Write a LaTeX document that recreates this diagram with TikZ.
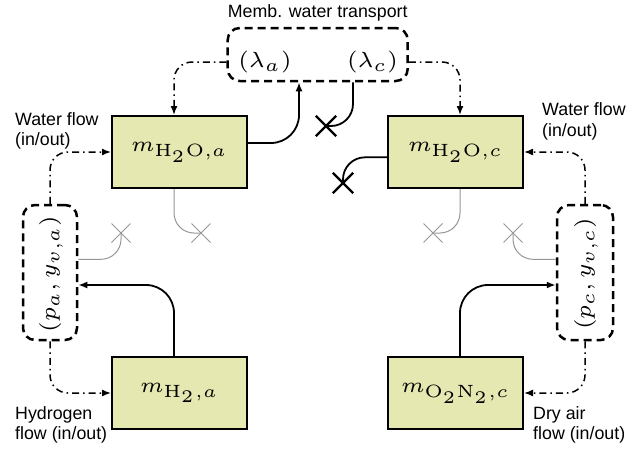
\documentclass[tikz,border=0pt]{standalone}
\usepackage{fontspec}
\setsansfont{Liberation Sans}
\usetikzlibrary{arrows.meta,shapes.misc}

\definecolor{boxfill}{RGB}{230,232,178}
\definecolor{weakgray}{RGB}{150,150,150}

% math labels, set small (large subscripts) and enlarged
\newcommand\masslabel[1]{\scalebox{3.55}{\fontsize{6}{7}\selectfont$#1$}}
\newcommand\statelabel[1]{\scalebox{3.65}{\fontsize{6}{7}\selectfont$#1$}}

\tikzset{
  massbox/.style={draw=black, line width=2pt, fill=boxfill,
    minimum width=135pt, minimum height=72pt, inner sep=0pt},
  statebox/.style={draw=black, line width=2.5pt, dash pattern=on 8pt off 5pt,
    rounded corners=12pt, inner sep=0pt},
  statetext/.style={inner sep=0pt},
  flow/.style={draw=black, line width=1.5pt,
    dash pattern=on 7pt off 4pt on 1.5pt off 4pt,
    -{Latex[length=9pt,width=7pt]}, rounded corners=18pt},
  link/.style={draw=black, line width=1.8pt,
    -{Latex[length=9pt,width=7pt]}},
  plain/.style={draw=black, line width=1.8pt},
  weak/.style={draw=weakgray, line width=1pt, rounded corners=20pt},
  bigx/.style={cross out, draw=black, line width=2.4pt, minimum size=18pt, inner sep=0pt},
  smallx/.style={cross out, draw=weakgray, line width=1pt, minimum size=18pt, inner sep=0pt},
  lbl/.style={font=\sffamily\fontsize{17.8}{20.5}\selectfont, align=left, inner sep=0pt},
}

\begin{document}
\begin{tikzpicture}[x=1pt,y=-1pt]
\useasboundingbox (0,0) rectangle (639,450);

% mass states
\node[massbox] (ha) at (179.5,152) {\masslabel{m_{\mathrm{H_2O},a}}};
\node[massbox] (hc) at (455.5,152) {\masslabel{m_{\mathrm{H_2O},c}}};
\node[massbox] (hy) at (179.5,393) {\masslabel{m_{\mathrm{H_2},a}}};
\node[massbox] (ox) at (455.5,393) {\masslabel{m_{\mathrm{O_2N_2},c}}};

% membrane water content
\node[statebox, minimum width=180pt, minimum height=53pt] (mem) at (317.7,54.5) {};
\node[statetext] (lama) at (265,62) {\statelabel{(\lambda_a)}};
\node[statetext] (lamc) at (372.5,62) {\statelabel{(\lambda_c)}};
\node[lbl] (memt) at (317.7,13) {Memb. water transport};

% manifold pressures and vapour fractions
\node[statebox, minimum width=54pt, minimum height=135pt] (pa) at (50,272.5) {};
\node[statetext, rotate=90] (pal) at (51,274) {\statelabel{(p_a, y_{v,a})}};
\node[statebox, minimum width=56pt, minimum height=135pt] (pc) at (585,272.5) {};
\node[statetext, rotate=90] (pcl) at (586,274) {\statelabel{(p_c, y_{v,c})}};

% sinks
\node[bigx] (bx1) at (326,126) {};
\node[bigx] (bx2) at (343,183) {};
\node[smallx] (gx1) at (121,233) {};
\node[smallx] (gx2) at (201,233) {};
\node[smallx] (gx3) at (433,233) {};
\node[smallx] (gx4) at (513,233) {};

% flow labels
\node[lbl, anchor=west] (wfa) at (15,131) {Water flow\\(in/out)};
\node[lbl, anchor=west] (wfc) at (542,121.5) {Water flow\\(in/out)};
\node[lbl, anchor=west] (hfl) at (15,425) {Hydrogen\\flow (in/out)};
\node[lbl, anchor=west] (afl) at (533,425) {Dry air\\flow (in/out)};

% external flows
\draw[flow] (mem.west |- lama) -| ([xshift=-5.5pt]ha.north);
\draw[flow] (mem.east |- lamc) -| ([xshift=4.5pt]hc.north);
\draw[flow] (pa.north) |- (ha.west);
\draw[flow] (pa.south) |- (hy.west);
\draw[flow] (pc.north) |- (hc.east);
\draw[flow] (pc.south) |- (ox.east);

% membrane coupling
\draw[link, rounded corners=28pt] ([yshift=9pt]ha.east) -| ([xshift=-18.7pt]mem.south);
\draw[plain, rounded corners=22pt] ([xshift=35.3pt]mem.south) |- (bx1.center);
\draw[plain, rounded corners=22pt] ([yshift=-5.3pt]hc.west) -| (bx2.center);

% manifold feeds
\draw[link, rounded corners=28pt] ([xshift=-5.5pt]hy.north) |- ([yshift=-12.5pt]pa.east);
\draw[link, rounded corners=28pt] ([xshift=4.5pt]ox.north) |- ([yshift=-12.5pt]pc.west);

% neglected couplings
\draw[weak] ([xshift=-5.5pt]ha.south) |- (gx2.center);
\draw[weak] ([yshift=13.2pt]pa.east) -| (gx1.center);
\draw[weak] ([xshift=4.5pt]hc.south) |- (gx3.center);
\draw[weak] ([yshift=13.2pt]pc.west) -| (gx4.center);
\end{tikzpicture}
\end{document}
